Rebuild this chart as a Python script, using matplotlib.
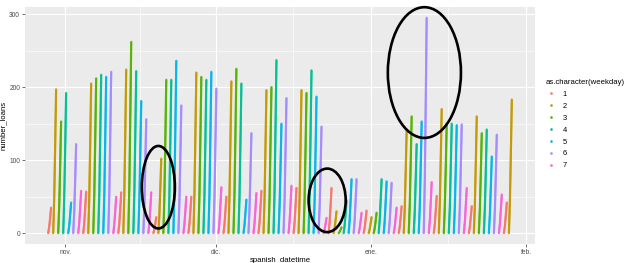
import numpy as np
import pandas as pd
import matplotlib
matplotlib.use("Agg")
import matplotlib.pyplot as plt
import matplotlib.dates as mdates
from matplotlib.lines import Line2D
from matplotlib.patches import Ellipse

plt.rcParams["font.family"] = ["Liberation Sans", "DejaVu Sans"]

# daily totals of loans, one value per day starting on first_day (a Sunday)
first_day = "2017-10-29"
daily_loans = [
    35, 197, 153, 192, 42, 122, 58,
    57, 205, 212, 217, 214, 221, 50,
    56, 224, 262, 222, 181, 156, 56,
    22, 102, 210, 210, 236, 175, 50,
    50, 220, 214, 210, 221, 198, 63,
    50, 208, 225, 205, 46, 137, 55,
    58, 196, 200, 237, 150, 185, 65,
    62, 196, 192, 223, 187, 146, 21,
    62, 30, 8, 45, 74, 74, 28,
    31, 22, 28, 74, 71, 69, 35,
    37, 140, 160, 122, 153, 295, 70,
    51, 170, 150, 150, 148, 149, 62,
    37, 160, 137, 142, 105, 135, 53,
    42, 183,
]

# share of the day's loans already done at each hour of the window
window_hours = [-10, -5, 0, 4]
cum_share = [0.0, 0.25, 0.65, 1.0]

weekday_colors = ["#F8766D", "#C49A00", "#53B400", "#00C094",
                  "#00B6EB", "#A58AFF", "#FB61D7"]
weekday_labels = ["1", "2", "3", "4", "5", "6", "7"]

days = pd.date_range(first_day, periods=len(daily_loans), freq="D")

rows = []
for day, n in zip(days, daily_loans):
    wd = (day.dayofweek + 1) % 7 + 1
    k = np.arange(0, n + 1)
    hours = np.interp(k / n, cum_share, window_hours)
    for kk, h in zip(k, hours):
        rows.append((day + pd.Timedelta(hours=float(h)), kk, wd))
df = pd.DataFrame(rows, columns=["spanish_datetime", "number_loans", "weekday"])

fig = plt.figure(figsize=(6.26, 2.63), dpi=100)
ax = fig.add_axes([25 / 626, 1 - 244 / 263, 510 / 626, 237 / 263])
ax.set_facecolor("#EBEBEB")

xnum = mdates.date2num(df["spanish_datetime"])
cols = [weekday_colors[w - 1] for w in df["weekday"]]
ax.scatter(xnum, df["number_loans"], s=2.6, c=cols, alpha=0.8,
           linewidths=0, zorder=3)

# ggplot-like expansion
xr = xnum.max() - xnum.min()
ax.set_xlim(xnum.min() - 0.05 * xr, xnum.max() + 0.05 * xr)
ymax = df["number_loans"].max()
ax.set_ylim(-0.05 * ymax, 1.05 * ymax)

months = pd.to_datetime(["2017-11-01", "2017-12-01", "2018-01-01", "2018-02-01"])
ax.set_xticks(mdates.date2num(months))
ax.set_xticklabels(["nov.", "dic.", "ene.", "feb."])
mid = months[:-1] + (months[1:] - months[:-1]) / 2
ax.set_xticks(mdates.date2num(mid), minor=True)
ax.set_yticks([0, 100, 200, 300])
ax.set_yticks([50, 150, 250], minor=True)

ax.grid(which="major", color="white", lw=0.8, zorder=0)
ax.grid(which="minor", color="white", lw=0.4, zorder=0)
ax.set_axisbelow(True)
for sp in ax.spines.values():
    sp.set_visible(False)
ax.tick_params(which="major", length=2, width=0.5, color="#333333",
               labelsize=4.8, labelcolor="#4D4D4D", pad=1.5)
ax.tick_params(which="minor", length=0)

ax.set_xlabel("spanish_datetime", fontsize=5.6, labelpad=1)
ax.set_ylabel("number_loans", fontsize=5.6, labelpad=1.5)

# legend
handles = [Line2D([], [], ls="", marker="o", markersize=1.9, color=c,
                  markeredgewidth=0) for c in weekday_colors]
leg = fig.legend(handles, weekday_labels, title="as.character(weekday)",
                 loc="upper left", bbox_to_anchor=(543 / 626, 1 - 76 / 263),
                 frameon=False, fontsize=5.4, title_fontsize=5.6,
                 labelspacing=0.62, handletextpad=1.0, handlelength=1.2,
                 borderaxespad=0)
leg._legend_box.align = "left"

# hand-drawn circles from the original picture
circles = [("2017-11-19 14:00", 63, 6.6, 113),
           ("2017-12-23 07:00", 45, 7.4, 87),
           ("2018-01-11 17:00", 220, 14.6, 179)]
for when, yc, wdays, hval in circles:
    e = Ellipse((mdates.date2num(pd.Timestamp(when)), yc), wdays, hval,
                fill=False, ec="black", lw=1.9, zorder=5, clip_on=False)
    ax.add_patch(e)

fig.savefig("out.png", dpi=100)
